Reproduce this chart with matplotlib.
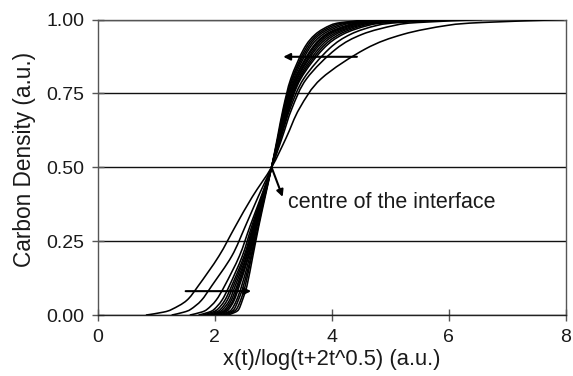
import numpy as np
import matplotlib
matplotlib.use('Agg')
import matplotlib.pyplot as plt
from matplotlib.path import Path
from matplotlib.patches import PathPatch

plt.rcParams['font.family'] = ['Liberation Sans', 'DejaVu Sans']

levels = [0.0, 0.01, 0.02, 0.05, 0.1, 0.2, 0.3, 0.4, 0.5,
          0.6, 0.7, 0.8, 0.9, 0.95, 0.98, 0.99, 1.0]

# Centre of the interface (all profiles cross here)
centre_x = 2.97

# x offsets from the centre for each profile, widest first
profiles = [
    [-2.15, -1.85, -1.70, -1.45, -1.25, -0.90, -0.62, -0.33, 0, 0.25, 0.48, 0.85, 1.60, 2.25, 3.00, 3.60, 5.00],
    [-1.71, -1.50, -1.38, -1.20, -1.02, -0.68, -0.45, -0.23, 0, 0.18, 0.35, 0.60, 1.10, 1.55, 2.10, 2.50, 3.60],
    [-1.40, -1.20, -1.10, -0.95, -0.80, -0.55, -0.37, -0.18, 0, 0.16, 0.32, 0.55, 0.98, 1.35, 1.80, 2.20, 3.20],
    [-1.25, -1.07, -0.98, -0.85, -0.72, -0.50, -0.34, -0.17, 0, 0.15, 0.30, 0.50, 0.88, 1.22, 1.65, 2.00, 2.90],
    [-1.18, -1.01, -0.92, -0.80, -0.68, -0.47, -0.32, -0.16, 0, 0.14, 0.29, 0.48, 0.84, 1.16, 1.57, 1.90, 2.75],
    [-1.12, -0.95, -0.87, -0.76, -0.65, -0.45, -0.31, -0.15, 0, 0.14, 0.28, 0.46, 0.80, 1.10, 1.50, 1.80, 2.60],
    [-1.06, -0.90, -0.83, -0.72, -0.62, -0.43, -0.30, -0.15, 0, 0.13, 0.27, 0.44, 0.76, 1.05, 1.44, 1.72, 2.50],
    [-1.02, -0.86, -0.79, -0.69, -0.59, -0.42, -0.29, -0.14, 0, 0.13, 0.26, 0.43, 0.73, 1.00, 1.38, 1.65, 2.40],
    [-0.98, -0.83, -0.76, -0.66, -0.57, -0.40, -0.28, -0.14, 0, 0.12, 0.25, 0.41, 0.70, 0.96, 1.33, 1.60, 2.30],
    [-0.95, -0.80, -0.73, -0.64, -0.55, -0.39, -0.27, -0.13, 0, 0.12, 0.24, 0.40, 0.68, 0.93, 1.28, 1.55, 2.20],
    [-0.90, -0.75, -0.68, -0.60, -0.51, -0.37, -0.26, -0.13, 0, 0.12, 0.23, 0.38, 0.64, 0.88, 1.20, 1.45, 2.10],
    [-0.85, -0.71, -0.64, -0.57, -0.48, -0.35, -0.25, -0.12, 0, 0.11, 0.22, 0.36, 0.61, 0.83, 1.13, 1.37, 2.00],
    [-0.80, -0.67, -0.60, -0.53, -0.45, -0.34, -0.23, -0.12, 0, 0.11, 0.21, 0.35, 0.58, 0.79, 1.06, 1.28, 1.85],
    [-0.75, -0.62, -0.56, -0.50, -0.42, -0.32, -0.22, -0.11, 0, 0.10, 0.20, 0.33, 0.55, 0.75, 1.00, 1.20, 1.70],
]

x_ticks = [0, 2, 4, 6, 8]
y_ticks = [0.0, 0.25, 0.5, 0.75, 1.0]
y_tick_labels = ['0.00', '0.25', '0.50', '0.75', '1.00']

# Arrows: (tail x, tail y, head x, head y)
upper_arrow = (4.43, 0.874, 3.17, 0.874)
lower_arrow = (1.50, 0.081, 2.62, 0.081)
centre_arrow_head = (3.16, 0.40)
centre_label_pos = (3.25, 0.38)


# Smooth curve through the read points (Catmull-Rom drawn as cubic Beziers)
def smooth_path(xs, ys):
    pts = np.column_stack([xs, ys])
    padded = np.vstack([pts[0], pts, pts[-1]])
    verts = [pts[0]]
    codes = [Path.MOVETO]
    for i in range(1, len(padded) - 2):
        p0, p1, p2, p3 = padded[i - 1], padded[i], padded[i + 1], padded[i + 2]
        verts += [p1 + (p2 - p0) / 6, p2 - (p3 - p1) / 6, p2]
        codes += [Path.CURVE4] * 3
    return Path(verts, codes)


fig = plt.figure(figsize=(5.73, 3.76), dpi=100)
ax = fig.add_axes([0.171, 0.162, 0.816, 0.786])

for offs in profiles:
    xs = centre_x + np.array(offs)
    ax.add_patch(PathPatch(smooth_path(xs, levels), facecolor='none',
                           edgecolor='black', lw=1.15, zorder=3))

ax.set_xlim(0, 8)
ax.set_ylim(0, 1)
ax.set_xticks(x_ticks)
ax.set_yticks(y_ticks)
ax.set_yticklabels(y_tick_labels)

ax.yaxis.grid(True, color='#111111', lw=1.0)
ax.set_axisbelow(True)

for side in ['left', 'right', 'top']:
    ax.spines[side].set_color('#555555')
ax.spines['bottom'].set_color('#222222')
for s in ax.spines.values():
    s.set_linewidth(1.0)

ax.tick_params(axis='both', direction='inout', length=8, width=1.0,
               color='#555555', labelsize=14, labelcolor='#1a1a1a')
ax.tick_params(axis='y', pad=6)
ax.tick_params(axis='x', pad=6)

ax.set_xlabel('x(t)/log(t+2t^0.5) (a.u.)', fontsize=15.8, color='#1a1a1a', labelpad=2)
ax.set_ylabel('Carbon Density (a.u.)', fontsize=16.3, color='#1a1a1a')
ax.yaxis.set_label_coords(-0.133, 0.525)

arrow_kw = dict(arrowstyle='-|>', color='black', lw=1.5, mutation_scale=10,
                shrinkA=0, shrinkB=0)
for tx, ty, hx, hy in [upper_arrow, lower_arrow]:
    ax.annotate('', xy=(hx, hy), xytext=(tx, ty), arrowprops=arrow_kw)

ax.annotate('', xy=centre_arrow_head, xytext=(centre_x, 0.5), arrowprops=arrow_kw)
ax.text(centre_label_pos[0], centre_label_pos[1], 'centre of the interface',
        fontsize=15.5, color='#1a1a1a', va='center', ha='left')

fig.savefig('out.png', dpi=100)
